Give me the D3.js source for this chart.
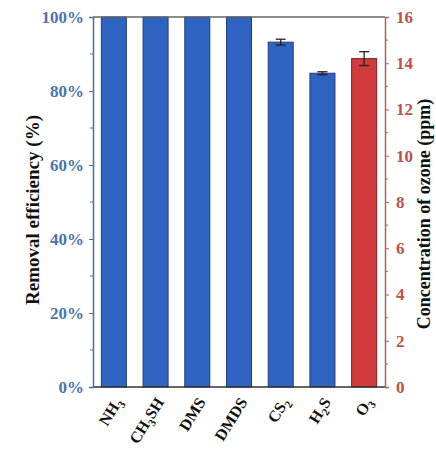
<!DOCTYPE html>
<html lang="en">
<head>
<meta charset="UTF-8" />
<script src="https://cdnjs.cloudflare.com/ajax/libs/d3/7.8.2/d3.min.js"></script>
<style>
  body { margin: 0; background: #fff; }
  svg { display: block; font-family: "Times New Roman", "Liberation Serif", Times, serif; font-weight: bold; }
  svg text { font-family: "Times New Roman", "Liberation Serif", Times, serif; }
</style>
</head>
<body>
<svg id="chart" width="436" height="451"></svg>
<script>
// data
const categories = ["NH3", "CH3SH", "DMS", "DMDS", "CS2", "H2S", "O3"];
const labelParts = [
  [["NH", ""], ["3", "sub"]],
  [["CH", ""], ["3", "sub"], ["SH", ""]],
  [["DMS", ""]],
  [["DMDS", ""]],
  [["CS", ""], ["2", "sub"]],
  [["H", ""], ["2", "sub"], ["S", ""]],
  [["O", ""], ["3", "sub"]]
];
const removal = [100, 100, 100, 100, 93.2, 84.8];   // %
const removalErr = [0, 0, 0, 0, 0.8, 0.4];
const ozone = 14.2;      // ppm
const ozoneErr = 0.3;
const leftTicks = [0, 20, 40, 60, 80, 100];
const rightTicks = [0, 2, 4, 6, 8, 10, 12, 14, 16];

const svg = d3.select("#chart");
const m = { left: 93, right: 385, top: 17, bottom: 387 };
const blue = "#2f63c2", red = "#d23b3b";
const blueText = "#4a74ad", redText = "#c0504d";

const x = d3.scaleBand().domain(categories).range([m.left, m.right]).paddingInner(0.4).paddingOuter(0.2);
const yL = d3.scaleLinear().domain([0, 100]).range([m.bottom, m.top]);
const yR = d3.scaleLinear().domain([0, 16]).range([m.bottom, m.top]);

// bars
svg.append("g").selectAll("rect")
  .data(removal)
  .join("rect")
  .attr("x", (d, i) => x(categories[i]))
  .attr("y", d => yL(d))
  .attr("width", x.bandwidth())
  .attr("height", d => yL(0) - yL(d))
  .attr("fill", blue)
  .attr("stroke", "#1d3f7a")
  .attr("stroke-width", 1);

svg.append("rect")
  .attr("x", x("O3"))
  .attr("y", yR(ozone))
  .attr("width", x.bandwidth())
  .attr("height", yR(0) - yR(ozone))
  .attr("fill", red)
  .attr("stroke", "#7a2020")
  .attr("stroke-width", 1);

// error bars
function errBar(cx, yTop, yBot) {
  const g = svg.append("g").attr("stroke", "#222").attr("stroke-width", 1.3);
  g.append("line").attr("x1", cx).attr("x2", cx).attr("y1", yTop).attr("y2", yBot);
  g.append("line").attr("x1", cx - 5).attr("x2", cx + 5).attr("y1", yTop).attr("y2", yTop);
  g.append("line").attr("x1", cx - 5).attr("x2", cx + 5).attr("y1", yBot).attr("y2", yBot);
}
removal.forEach((d, i) => {
  if (removalErr[i] > 0) {
    errBar(x(categories[i]) + x.bandwidth() / 2, yL(d + removalErr[i]), yL(d - removalErr[i]));
  }
});
errBar(x("O3") + x.bandwidth() / 2, yR(ozone + ozoneErr), yR(ozone - ozoneErr));

// frame
svg.append("line").attr("x1", m.left).attr("x2", m.right).attr("y1", m.top).attr("y2", m.top)
  .attr("stroke", "#666").attr("stroke-width", 1.3);
svg.append("line").attr("x1", m.left).attr("x2", m.right).attr("y1", m.bottom).attr("y2", m.bottom)
  .attr("stroke", "#333").attr("stroke-width", 1.5);

// left axis
const gL = svg.append("g").attr("transform", `translate(${m.left},0)`)
  .call(d3.axisLeft(yL).tickValues(leftTicks).tickSize(4).tickPadding(5).tickFormat(d => d + "%"));
gL.attr("font-family", null);
gL.select(".domain").attr("stroke", "#4a6fa5").attr("stroke-width", 1.5);
gL.selectAll(".tick line").attr("stroke", "#4a6fa5");
gL.selectAll(".tick text").attr("fill", blueText).attr("font-size", 17).attr("font-weight", "bold");
gL.append("g").selectAll("line").data(d3.range(10, 100, 20)).join("line")
  .attr("x1", -3).attr("x2", 0).attr("y1", d => yL(d)).attr("y2", d => yL(d)).attr("stroke", "#4a6fa5");

// right axis
const gR = svg.append("g").attr("transform", `translate(${m.right},0)`)
  .call(d3.axisRight(yR).tickValues(rightTicks).tickSize(4).tickPadding(7));
gR.attr("font-family", null);
gR.select(".domain").attr("stroke", "#b06060").attr("stroke-width", 1.5);
gR.selectAll(".tick line").attr("stroke", "#b06060");
gR.selectAll(".tick text").attr("fill", redText).attr("font-size", 17).attr("font-weight", "bold");
gR.append("g").selectAll("line").data(d3.range(1, 16, 2)).join("line")
  .attr("x1", 0).attr("x2", 3).attr("y1", d => yR(d)).attr("y2", d => yR(d)).attr("stroke", "#b06060");

// axis titles
svg.append("text")
  .attr("transform", `translate(39,${(m.top + m.bottom) / 2 + 8}) rotate(-90)`)
  .attr("text-anchor", "middle").attr("font-size", 19).attr("fill", "#111")
  .text("Removal efficiency (%)");
svg.append("text")
  .attr("transform", `translate(430,${(m.top + m.bottom) / 2 + 12}) rotate(-90)`)
  .attr("text-anchor", "middle").attr("font-size", 18).attr("fill", "#111")
  .text("Concentration of ozone (ppm)");

// category labels
categories.forEach((c, i) => {
  const cx = x(c) + x.bandwidth() / 2 + 9;
  const t = svg.append("text")
    .attr("transform", `translate(${cx},${m.bottom + 15}) rotate(-58)`)
    .attr("text-anchor", "end").attr("font-size", 16).attr("fill", "#111");
  labelParts[i].forEach(([s, kind]) => {
    const ts = t.append("tspan").text(s);
    if (kind === "sub") ts.attr("font-size", 11).attr("dy", 4);
    else if (t.selectAll("tspan").size() > 1) ts.attr("dy", -4);
  });
});
</script>
</body>
</html>
